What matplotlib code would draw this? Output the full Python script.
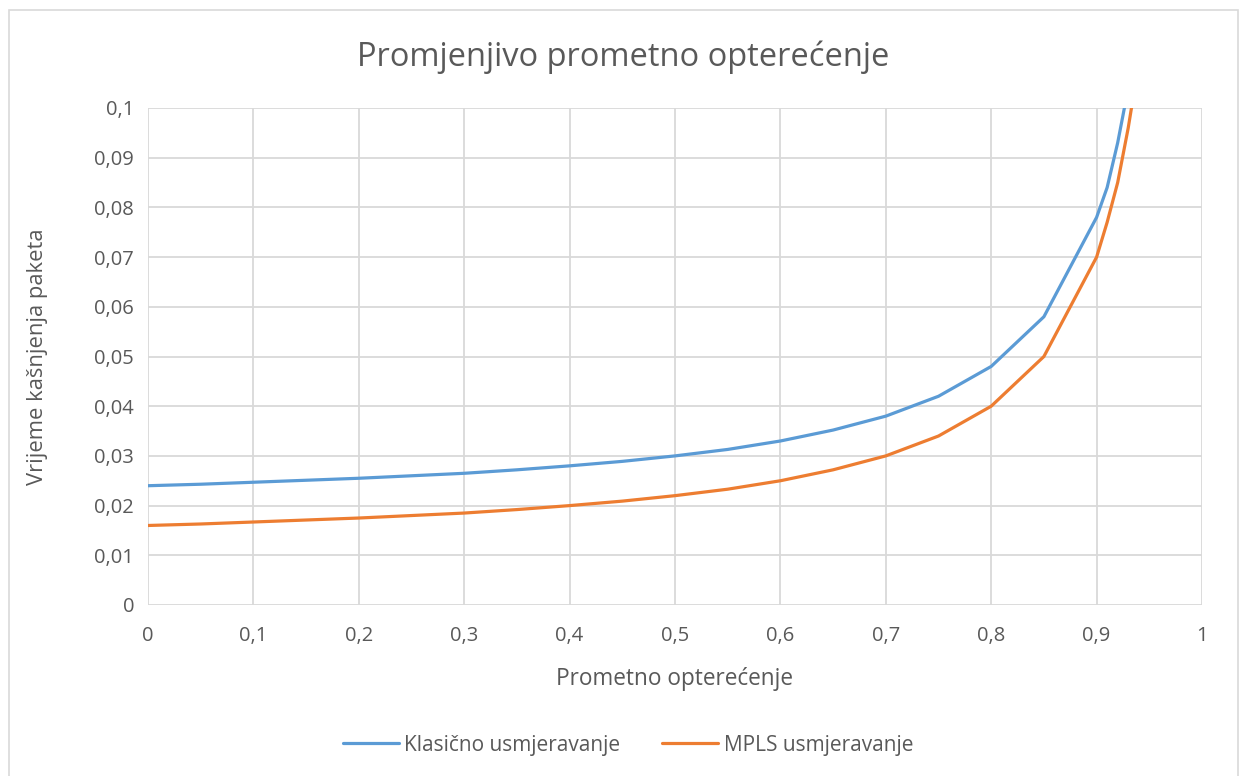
import matplotlib
matplotlib.use("Agg")
import matplotlib.pyplot as plt
from matplotlib.patches import Rectangle
from matplotlib.ticker import FixedLocator, FuncFormatter

x_blue = [0, 0.05, 0.1, 0.15, 0.2, 0.25, 0.3, 0.35, 0.4, 0.45, 0.5, 0.55, 0.6, 0.65,
          0.7, 0.75, 0.8, 0.85, 0.9, 0.91, 0.92, 0.93]
klasicno = [0.024, 0.0243, 0.0247, 0.0251, 0.0255, 0.026, 0.0265, 0.0272, 0.028, 0.0289,
            0.030, 0.0313, 0.033, 0.0352, 0.038, 0.042, 0.048, 0.058, 0.078, 0.084,
            0.093, 0.104]
x_orange = [0, 0.05, 0.1, 0.15, 0.2, 0.25, 0.3, 0.35, 0.4, 0.45, 0.5, 0.55, 0.6, 0.65,
            0.7, 0.75, 0.8, 0.85, 0.9, 0.91, 0.92, 0.93, 0.94]
mpls = [0.016, 0.0163, 0.0167, 0.0171, 0.0175, 0.018, 0.0185, 0.0192, 0.020, 0.0209,
        0.022, 0.0233, 0.025, 0.0272, 0.030, 0.034, 0.040, 0.050, 0.070, 0.077,
        0.085, 0.096, 0.109]
x_ticks = [0, 0.1, 0.2, 0.3, 0.4, 0.5, 0.6, 0.7, 0.8, 0.9, 1.0]
y_ticks = [0, 0.01, 0.02, 0.03, 0.04, 0.05, 0.06, 0.07, 0.08, 0.09, 0.1]

plt.rcParams['font.family'] = ['Open Sans', 'DejaVu Sans']
txt = '#595959'
grid = '#D9D9D9'

fig = plt.figure(figsize=(12.43, 7.76), dpi=100)
fig.patches.append(Rectangle((9 / 1243, -0.05), (1238 - 9) / 1243, 1.05 - 10 / 776,
                             transform=fig.transFigure, fill=False,
                             edgecolor=grid, linewidth=1.2))
ax = fig.add_axes([148 / 1243, (776 - 605) / 776, (1202 - 148) / 1243, (605 - 108) / 776])

ax.plot(x_blue, klasicno, color='#5B9BD5', linewidth=2.3, label='Klasično usmjeravanje',
        solid_capstyle='round')
ax.plot(x_orange, mpls, color='#ED7D31', linewidth=2.3, label='MPLS usmjeravanje',
        solid_capstyle='round')

ax.set_xlim(0, 1)
ax.set_ylim(0, 0.1)
ax.xaxis.set_major_locator(FixedLocator(x_ticks))
ax.yaxis.set_major_locator(FixedLocator(y_ticks))
fmt = FuncFormatter(lambda v, p: ('%g' % round(v, 3)).replace('.', ','))
ax.xaxis.set_major_formatter(fmt)
ax.yaxis.set_major_formatter(fmt)
ax.grid(True, color=grid, linewidth=1.3)
ax.set_axisbelow(True)
for s in ax.spines.values():
    s.set_visible(False)
ax.tick_params(length=0, labelsize=14.5, colors=txt)
ax.tick_params(axis='x', pad=15)
ax.tick_params(axis='y', pad=10)

ax.set_xlabel('Prometno opterećenje', fontsize=16.3, color=txt, labelpad=15)
ax.set_ylabel('Vrijeme kašnjenja paketa', fontsize=15.8, color=txt, labelpad=8)
ax.yaxis.set_label_coords(-100 / 1054, 0.5)
fig.text(0.5 * (358 + 889) / 1243, 1 - 57 / 776, 'Promjenjivo prometno opterećenje',
         fontsize=23.5, color=txt, ha='center', va='center')

leg = fig.legend(loc='center', bbox_to_anchor=(628 / 1243, 1 - 745 / 776), ncol=2,
                 frameon=False, fontsize=15, handlelength=2.7, columnspacing=2.0,
                 handletextpad=0.25)
for t in leg.get_texts():
    t.set_color(txt)

fig.savefig('out.png', dpi=100)
